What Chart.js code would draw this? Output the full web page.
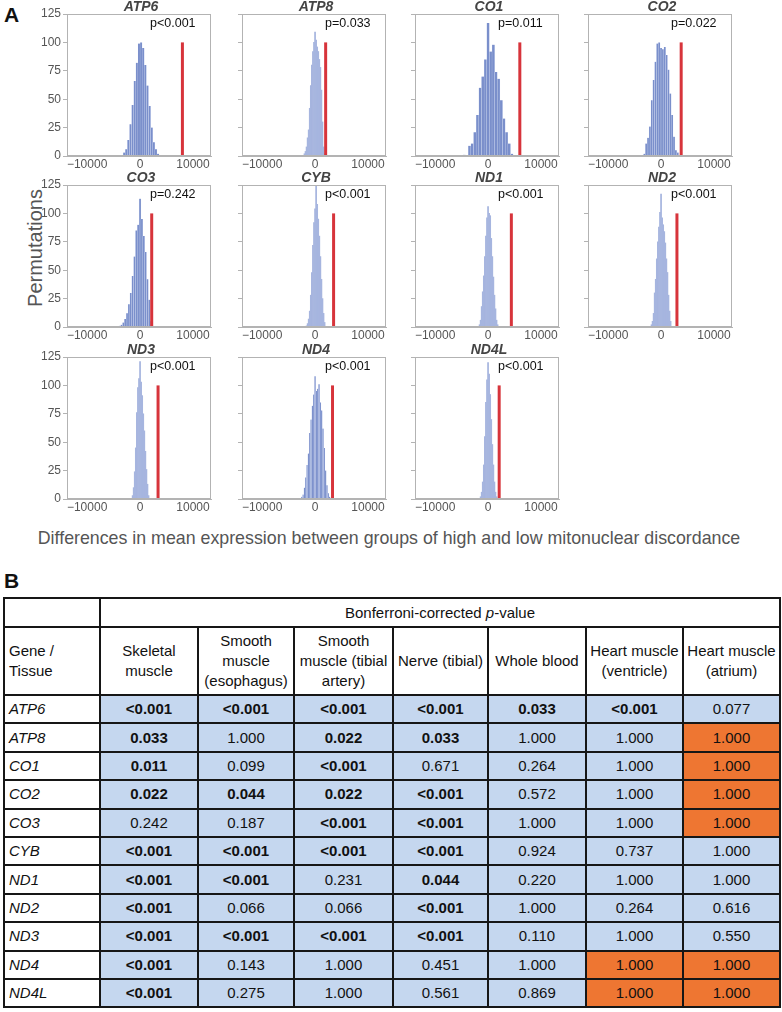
<!DOCTYPE html>
<html>
<head>
<meta charset="utf-8">
<script src="https://cdn.jsdelivr.net/npm/chart.js@4.4.1/dist/chart.umd.min.js"></script>
<style>
  body { margin: 0; background: #fff; font-family: "Liberation Sans", Arial, sans-serif; }
  #page { position: relative; width: 782px; height: 1012px; overflow: hidden; background: #fff; }
  .letter { position: absolute; font-weight: bold; font-size: 21px; line-height: 20px; color: #111; }
  canvas.hist { position: absolute; }
  #yTitle { position: absolute; left: 35px; top: 248px; transform: translate(-50%, -50%) rotate(-90deg);
            font-size: 20px; color: #555; white-space: nowrap; }
  #xTitle { position: absolute; left: 0; width: 778px; top: 528px; text-align: center;
            font-size: 17.8px; line-height: 20px; color: #555; white-space: nowrap; }
  #pvals { position: absolute; left: 3px; top: 597px; width: 776px; border-collapse: collapse;
           table-layout: fixed; font-size: 15px; color: #111; }
  #pvals td { border: 2px solid #161616; text-align: center; padding: 0 3px; line-height: 20px; }
  #pvals tr.r1 { height: 29px; }
  #pvals tr.r2 { height: 68px; }
  #pvals tr.rd { height: 28.4px; }
  #pvals td.left { text-align: left; padding-left: 4px; }
  #pvals td.gene { text-align: left; padding-left: 4px; font-style: italic; }
  #pvals td.val { background: #c5d7ef; }
  #pvals td.val.opp { background: #ee7632; }
  #pvals td.sig { font-weight: bold; }
</style>
</head>
<body>
<div id="page">
  <div class="letter" style="left:4px; top:5px;">A</div>
  <div id="yTitle">Permutations</div>
  <div id="xTitle">Differences in mean expression between groups of high and low mitonuclear discordance</div>
  <div class="letter" style="left:4px; top:571px;">B</div>
  <table id="pvals"></table>
</div>
<script>
// ---- panel A: permutation histograms ----
const genes = ["ATP6", "ATP8", "CO1", "CO2", "CO3", "CYB", "ND1", "ND2", "ND3", "ND4", "ND4L"];
const pTexts = ["p<0.001", "p=0.033", "p=0.011", "p=0.022", "p=0.242", "p<0.001",
                "p<0.001", "p<0.001", "p<0.001", "p<0.001", "p<0.001"];
// observed difference (red line)
const observedDiff = [8000, 2000, 6000, 3800, 2200, 3500, 4400, 3000, 3400, 3300, 2100];
// histogram bins: centre of first bin and bin width
const binStart = [-3000, -2000, -4500, -3150, -3850, -1600, -1600, -1800, -1400, -2500, -1400];
const binWidth = [400, 200, 500, 350, 350, 200, 200, 200, 200, 250, 200];

const countsATP6 = [3, 6, 14, 28, 45, 66, 82, 99, 100, 95, 80, 62, 44, 25, 12, 6, 2];
const countsATP8 = [2, 4, 8, 16, 23, 42, 62, 80, 92, 100, 109, 102, 96, 92, 85, 78, 58, 30, 8, 2];
const countsCO1 = [1, 0, 9, 11, 21, 36, 60, 70, 85, 117, 92, 98, 74, 68, 49, 33, 21, 11, 2];
const countsCO2 = [2, 11, 16, 26, 49, 67, 83, 99, 100, 95, 94, 96, 89, 76, 55, 36, 17, 5, 3];
const countsCO3 = [1, 2, 4, 7, 12, 20, 30, 45, 62, 85, 90, 113, 95, 80, 66, 42, 24, 5];
const countsCYB = [1, 3, 7, 14, 28, 48, 72, 92, 104, 125, 108, 95, 80, 62, 42, 25, 12, 4];
const countsND1 = [2, 6, 18, 31, 45, 62, 80, 96, 106, 100, 98, 78, 62, 44, 28, 16, 6, 2];
const countsND2 = [2, 5, 12, 30, 42, 60, 75, 88, 101, 117, 96, 90, 84, 74, 60, 48, 28, 14, 5];
const countsND3 = [3, 10, 24, 45, 76, 98, 106, 121, 103, 91, 75, 60, 42, 26, 13, 3];
const countsND4 = [2, 4, 10, 19, 30, 40, 58, 70, 82, 92, 108, 95, 97, 101, 85, 78, 62, 45, 25, 12, 5, 2];
const countsND4L = [2, 6, 15, 30, 55, 85, 105, 120, 110, 92, 70, 48, 30, 15, 6, 2];
const permCounts = [countsATP6, countsATP8, countsCO1, countsCO2, countsCO3, countsCYB,
                    countsND1, countsND2, countsND3, countsND4, countsND4L];

const xTickValues = [-10000, 0, 10000];
const yTickValues = [0, 25, 50, 75, 100, 125];
const OBS_LINE_TOP = 100;

// ---- panel B: table ----
const tissues = ["Skeletal\nmuscle", "Smooth\nmuscle\n(esophagus)", "Smooth\nmuscle (tibial\nartery)",
                 "Nerve (tibial)", "Whole blood", "Heart muscle\n(ventricle)", "Heart muscle\n(atrium)"];
const bonferroni = [
  ["<0.001", "<0.001", "<0.001", "<0.001", "0.033", "<0.001", "0.077"],
  ["0.033", "1.000", "0.022", "0.033", "1.000", "1.000", "1.000"],
  ["0.011", "0.099", "<0.001", "0.671", "0.264", "1.000", "1.000"],
  ["0.022", "0.044", "0.022", "<0.001", "0.572", "1.000", "1.000"],
  ["0.242", "0.187", "<0.001", "<0.001", "1.000", "1.000", "1.000"],
  ["<0.001", "<0.001", "<0.001", "<0.001", "0.924", "0.737", "1.000"],
  ["<0.001", "<0.001", "0.231", "0.044", "0.220", "1.000", "1.000"],
  ["<0.001", "0.066", "0.066", "<0.001", "1.000", "0.264", "0.616"],
  ["<0.001", "<0.001", "<0.001", "<0.001", "0.110", "1.000", "0.550"],
  ["<0.001", "0.143", "1.000", "0.451", "1.000", "1.000", "1.000"],
  ["<0.001", "0.275", "1.000", "0.561", "0.869", "1.000", "1.000"]
];
// cells with the opposite direction (orange)
const oppositeDirection = [
  [0, 0, 0, 0, 0, 0, 0],
  [0, 0, 0, 0, 0, 0, 1],
  [0, 0, 0, 0, 0, 0, 1],
  [0, 0, 0, 0, 0, 0, 1],
  [0, 0, 0, 0, 0, 0, 1],
  [0, 0, 0, 0, 0, 0, 0],
  [0, 0, 0, 0, 0, 0, 0],
  [0, 0, 0, 0, 0, 0, 0],
  [0, 0, 0, 0, 0, 0, 0],
  [0, 0, 0, 0, 0, 1, 1],
  [0, 0, 0, 0, 0, 1, 1]
];

// layout
const FONT = '"Liberation Sans", Arial, sans-serif';
const COL_LEFT = [67, 242, 415, 588];
const ROW_TOP = [14, 185, 357];
const PLOT_W = 144, PLOT_H = 142;
const PAD_L = 34, PAD_T = 24, PAD_R = 22, PAD_B = 22;
const X_MIN = -13800, X_MAX = 13400;
const lightPanels = new Set(["ATP8", "CYB", "ND1", "ND2", "ND3", "ND4L"]);

Chart.defaults.font.family = FONT;

const panelDecor = {
  id: "panelDecor",
  afterDraw(chart, args, opts) {
    const { ctx, chartArea: a } = chart;
    ctx.save();
    ctx.strokeStyle = "#b3b3b3";
    ctx.lineWidth = 1;
    ctx.strokeRect(a.left + 0.5, a.top + 0.5, a.right - a.left - 1, a.bottom - a.top - 1);
    ctx.fillStyle = "#444";
    ctx.font = "italic bold 14px " + FONT;
    ctx.textAlign = "center";
    ctx.textBaseline = "alphabetic";
    ctx.fillText(opts.gene, (a.left + a.right) / 2 + 2, a.top - 3);
    ctx.fillStyle = "#111";
    ctx.font = "12.5px " + FONT;
    ctx.textAlign = "left";
    ctx.textBaseline = "middle";
    ctx.fillText(opts.pText, a.left + 83, a.top + 10);
    ctx.restore();
  },
};

const fmtTick = (v) => (v < 0 ? "\u2212" + Math.abs(v) : String(v));

const page = document.getElementById("page");
genes.forEach((gene, i) => {
  const col = i % 4, row = Math.floor(i / 4);
  const canvas = document.createElement("canvas");
  canvas.className = "hist";
  const w = PLOT_W + PAD_L + PAD_R, h = PLOT_H + PAD_T + PAD_B;
  canvas.width = w;
  canvas.height = h;
  canvas.style.width = w + "px";
  canvas.style.height = h + "px";
  canvas.style.left = COL_LEFT[col] - PAD_L + "px";
  canvas.style.top = ROW_TOP[row] - PAD_T + "px";
  page.appendChild(canvas);

  const bars = permCounts[i].map((c, k) => ({ x: binStart[i] + k * binWidth[i], y: c }));
  const light = lightPanels.has(gene);

  new Chart(canvas.getContext("2d"), {
    type: "bar",
    data: {
      datasets: [
        {
          type: "line",
          data: [{ x: observedDiff[i], y: 0 }, { x: observedDiff[i], y: OBS_LINE_TOP }],
          borderColor: "#d7343b",
          borderWidth: 3,
          pointRadius: 0,
          order: 0,
        },
        {
          type: "bar",
          data: bars,
          backgroundColor: light ? "#a6b5df" : "#7a8fcb",
          borderColor: "rgba(225,232,250,0.6)",
          borderWidth: light ? 0 : { left: 0.4, right: 0.4, top: 0, bottom: 0 },
          barPercentage: 1,
          categoryPercentage: 1,
          order: 1,
        },
      ],
    },
    options: {
      responsive: false,
      animation: false,
      events: [],
      layout: { padding: { top: PAD_T, right: PAD_R, left: 0, bottom: 0 } },
      plugins: {
        legend: { display: false },
        tooltip: { enabled: false },
        panelDecor: { gene: gene, pText: pTexts[i] },
      },
      scales: {
        x: {
          type: "linear",
          bounds: "data",
          min: X_MIN,
          max: X_MAX,
          offset: false,
          grid: { display: false, drawTicks: false },
          border: { display: true, color: "#b3b3b3" },
          afterBuildTicks: (s) => { s.ticks = xTickValues.map((v) => ({ value: v })); },
          afterFit: (s) => { s.height = PAD_B; },
          ticks: {
            autoSkip: false,
            maxRotation: 0,
            padding: 1,
            color: "#555",
            font: { size: 12 },
            callback: fmtTick,
          },
        },
        y: {
          min: 0,
          max: 125,
          grid: { drawOnChartArea: false, tickLength: 4, color: "#b3b3b3" },
          border: { color: "#b3b3b3" },
          afterBuildTicks: (s) => { s.ticks = yTickValues.map((v) => ({ value: v })); },
          afterFit: (s) => { s.width = PAD_L; },
          ticks: { display: col === 0, padding: 2, color: "#555", font: { size: 12 } },
        },
      },
    },
    plugins: [panelDecor],
  });
});

// ---- build table ----
const colWidths = [96, 98, 96, 99, 95, 98, 97, 97];
const isSig = (s) => s.startsWith("<") || parseFloat(s) < 0.05;
let html = "<colgroup>" + colWidths.map((w) => `<col style="width:${w}px">`).join("") + "</colgroup>";
html += `<tr class="r1"><td></td><td colspan="${tissues.length}">Bonferroni-corrected <i>p</i>-value</td></tr>`;
html += `<tr class="r2"><td class="left">Gene /<br>Tissue</td>` +
  tissues.map((t) => `<td>${t.replace(/\n/g, "<br>")}</td>`).join("") + "</tr>";
genes.forEach((g, r) => {
  html += `<tr class="rd"><td class="gene">${g}</td>` +
    bonferroni[r].map((v, c) => {
      const cls = ["val"];
      if (oppositeDirection[r][c]) cls.push("opp");
      if (isSig(v)) cls.push("sig");
      return `<td class="${cls.join(" ")}">${v.replace("<", "&lt;")}</td>`;
    }).join("") + "</tr>";
});
document.getElementById("pvals").innerHTML = html;
</script>
</body>
</html>
